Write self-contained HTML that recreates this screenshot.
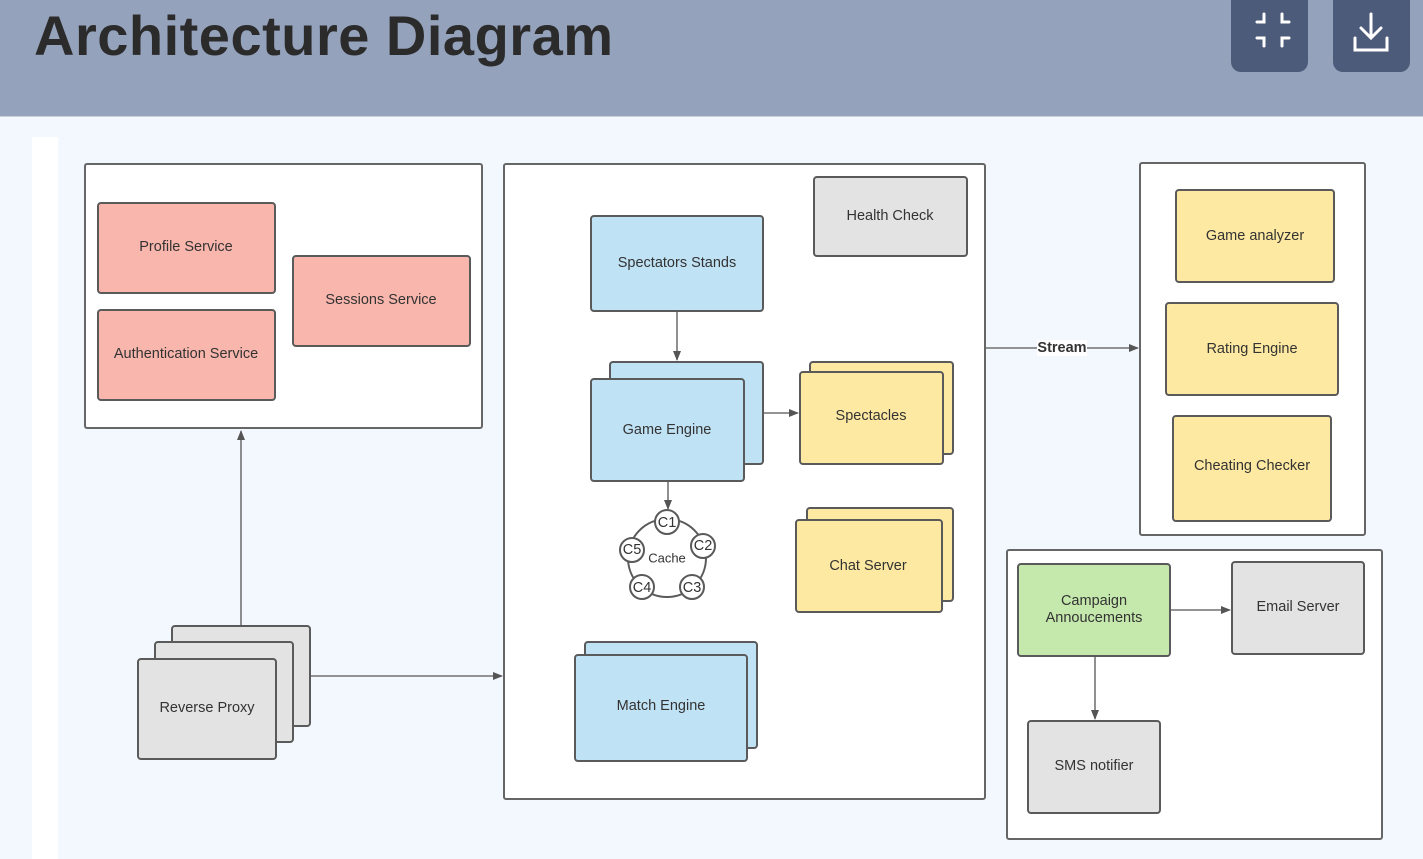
<!DOCTYPE html>
<html><head><style>
html,body{margin:0;padding:0;}
body{width:1423px;height:859px;overflow:hidden;background:#f3f7fe;position:relative;font-family:"Liberation Sans",sans-serif;}
.hdr{position:absolute;left:0;top:0;width:1423px;height:116px;background:#95a2bc;border-bottom:1px solid #c9d0dc;}
.hdr h1{position:absolute;left:34px;top:3px;margin:0;font-size:56px;font-weight:bold;color:#2b2b2b;letter-spacing:0.5px;}
.btn{position:absolute;top:-10px;width:77px;height:82px;background:#4d5b7a;border-radius:10px;}
.strip{position:absolute;left:32px;top:137px;width:26px;height:722px;background:#fff;}
svg{position:absolute;left:0;top:0;}
text{font-family:"Liberation Sans",sans-serif;font-size:14.5px;fill:#333;text-anchor:middle;dominant-baseline:middle;}
</style></head><body>
<div class="hdr"><h1>Architecture Diagram</h1>
<div class="btn" style="left:1231px"></div><div class="btn" style="left:1333px"></div></div>
<div class="strip"></div>
<svg width="1423" height="859" viewBox="0 0 1423 859">
<defs><marker id="a" markerWidth="10" markerHeight="8" refX="9" refY="4" orient="auto" markerUnits="userSpaceOnUse"><path d="M0,0 L10,4 L0,8z" fill="#555"/></marker></defs>
<g fill="none" stroke="#fff" stroke-width="3" stroke-linecap="round">
<path d="M1257,22 h7 v-8 M1282,14 v8 h7 M1257,38 h7 v8 M1282,46 v-8 h7"/>
<path d="M1371,14 v24 M1361,28 l10,10 l10,-10 M1355,38 v12 h32 v-12"/>
</g>
<g stroke="#666" stroke-width="2" fill="#fff">
<rect x="85" y="164" width="397" height="264" rx="2"/>
<rect x="504" y="164" width="481" height="635" rx="2"/>
<rect x="1140" y="163" width="225" height="372" rx="2"/>
<rect x="1007" y="550" width="375" height="289" rx="2"/>
</g>
<g stroke="#5a5a5a" stroke-width="2">
<rect x="98" y="203" width="177" height="90" rx="3" fill="#f9b6ad"/>
<rect x="98" y="310" width="177" height="90" rx="3" fill="#f9b6ad"/>
<rect x="293" y="256" width="177" height="90" rx="3" fill="#f9b6ad"/>
<rect x="814" y="177" width="153" height="79" rx="3" fill="#e3e3e3"/>
<rect x="591" y="216" width="172" height="95" rx="3" fill="#c0e2f5"/>
<rect x="610" y="362" width="153" height="102" rx="3" fill="#c0e2f5"/>
<rect x="591" y="379" width="153" height="102" rx="3" fill="#c0e2f5"/>
<rect x="810" y="362" width="143" height="92" rx="3" fill="#fde9a1"/>
<rect x="800" y="372" width="143" height="92" rx="3" fill="#fde9a1"/>
<rect x="807" y="508" width="146" height="93" rx="3" fill="#fde9a1"/>
<rect x="796" y="520" width="146" height="92" rx="3" fill="#fde9a1"/>
<rect x="585" y="642" width="172" height="106" rx="3" fill="#c0e2f5"/>
<rect x="575" y="655" width="172" height="106" rx="3" fill="#c0e2f5"/>
<rect x="1176" y="190" width="158" height="92" rx="3" fill="#fde9a1"/>
<rect x="1166" y="303" width="172" height="92" rx="3" fill="#fde9a1"/>
<rect x="1173" y="416" width="158" height="105" rx="3" fill="#fde9a1"/>
<rect x="1018" y="564" width="152" height="92" rx="3" fill="#c5e8ac"/>
<rect x="1232" y="562" width="132" height="92" rx="3" fill="#e3e3e3"/>
<rect x="1028" y="721" width="132" height="92" rx="3" fill="#e3e3e3"/>
<rect x="172" y="626" width="138" height="100" rx="3" fill="#e3e3e3"/>
<rect x="155" y="642" width="138" height="100" rx="3" fill="#e3e3e3"/>
<rect x="138" y="659" width="138" height="100" rx="3" fill="#e3e3e3"/>
<circle cx="667" cy="558" r="39" fill="#fff"/>
<g fill="#fff"><circle cx="667" cy="522" r="12"/><circle cx="703" cy="546" r="12"/><circle cx="692" cy="587" r="12"/><circle cx="642" cy="587" r="12"/><circle cx="632" cy="550" r="12"/></g>
</g>
<g stroke="#555" stroke-width="1.3" fill="none" marker-end="url(#a)">
<path d="M677,311 V360"/>
<path d="M763,413 H798"/>
<path d="M668,481 V509"/>
<path d="M241,626 V431"/>
<path d="M310,676 H502"/>
<path d="M986,348 H1138"/>
<path d="M1170,610 H1230"/>
<path d="M1095,656 V719"/>
</g>
<rect x="1037" y="340" width="50" height="16" fill="#fff"/>
<text x="1062" y="348" style="font-weight:bold">Stream</text>
<text x="186" y="247">Profile Service</text>
<text x="186" y="354">Authentication Service</text>
<text x="381" y="300">Sessions Service</text>
<text x="890" y="216">Health Check</text>
<text x="677" y="263">Spectators Stands</text>
<text x="667" y="430">Game Engine</text>
<text x="871" y="416">Spectacles</text>
<text x="868" y="566">Chat Server</text>
<text x="661" y="706">Match Engine</text>
<text x="1255" y="236">Game analyzer</text>
<text x="1252" y="349">Rating Engine</text>
<text x="1252" y="466">Cheating Checker</text>
<text x="1094" y="601">Campaign</text>
<text x="1094" y="618">Annoucements</text>
<text x="1298" y="607">Email Server</text>
<text x="1094" y="766">SMS notifier</text>
<text x="207" y="708">Reverse Proxy</text>
<text x="667" y="559" style="font-size:13px">Cache</text>
<g style="font-size:13px"><text x="667" y="523">C1</text><text x="703" y="546">C2</text><text x="692" y="588">C3</text><text x="642" y="588">C4</text><text x="632" y="550">C5</text></g>
</svg>
</body></html>
